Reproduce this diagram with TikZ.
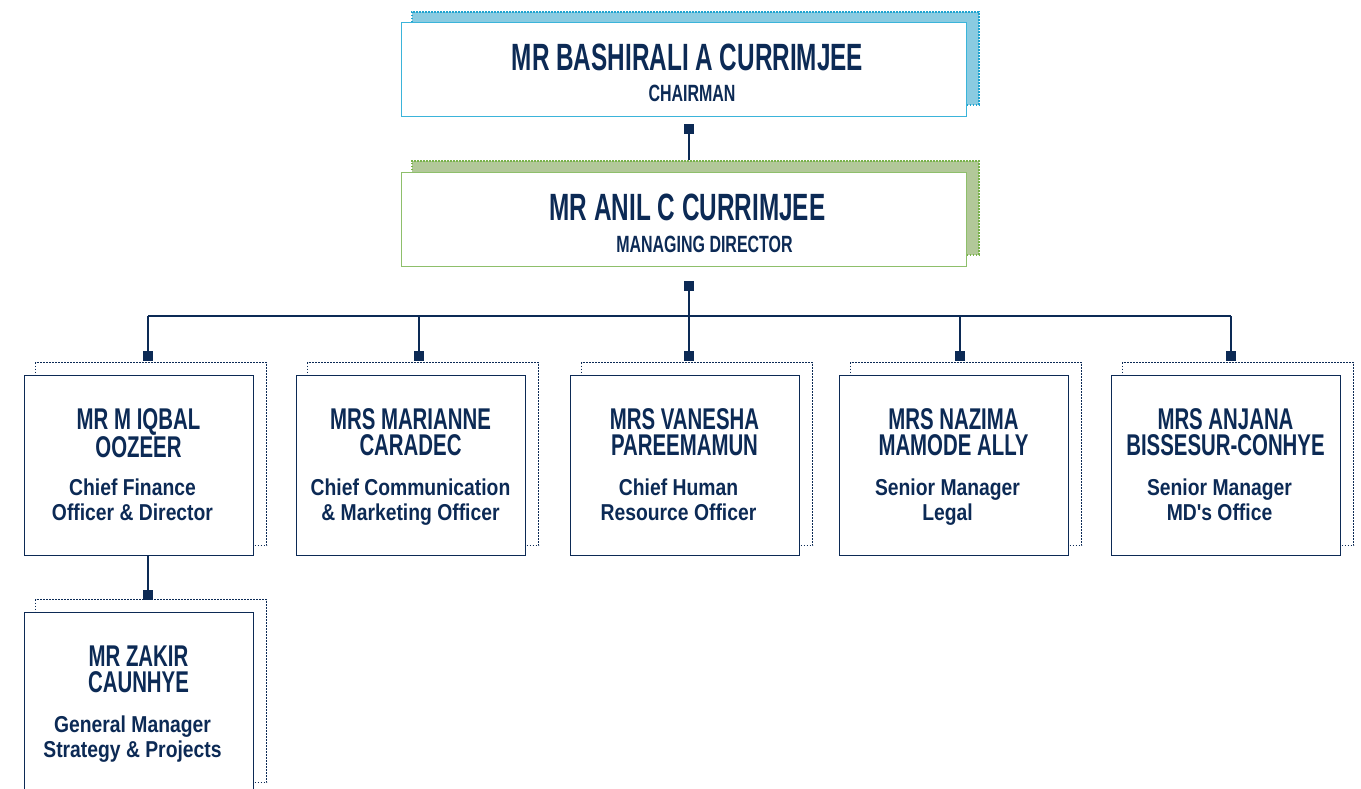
\documentclass[tikz,border=0pt]{standalone}
\usepackage{fontspec}
\setmainfont{Liberation Sans}
\newfontfamily\headfont{Liberation Sans}[FakeStretch=0.64]
\newfontfamily\capsfont{Liberation Sans}[FakeStretch=0.68]
\newfontfamily\rolefont{Liberation Sans}[FakeStretch=0.84]
\definecolor{navy}{HTML}{0C2A55}
\definecolor{skyline}{HTML}{3BB4DA}
\definecolor{skyfill}{HTML}{8ACBE1}
\definecolor{skydot}{HTML}{1FA3CF}
\definecolor{leafline}{HTML}{8EBF6B}
\definecolor{leaffill}{HTML}{B2C899}
\definecolor{leafdot}{HTML}{78B24A}

% one staff card: id, left x, top y, name lines, role lines, role x shift
\newcommand\staffcard[6]{%
  \node[cardshadow] (#1s) at (#2+11,#3-13) {};
  \node[card] (#1) at (#2,#3) {};
  \node[nametext] (#1n) at (#2+114.5,#3+33.5) {#4};
  \node[roletext] (#1r) at (#2+114.5+#6,#3+103.5) {#5};
}

\begin{document}
\begin{tikzpicture}[x=1pt,y=-1pt,
  dots/.style={dash pattern=on 1.4pt off 1.6pt},
  conn/.style={draw=navy,line width=2.2pt},
  marker/.style={fill=navy,draw=none,minimum size=9pt,inner sep=0pt},
  card/.style={draw=navy,line width=1.1pt,fill=white,minimum width=229pt,
    minimum height=180pt,anchor=north west,inner sep=0pt},
  cardshadow/.style={draw=navy,line width=1.4pt,dots,minimum width=231pt,
    minimum height=183pt,anchor=north west,inner sep=0pt},
  topbox/.style={fill=white,line width=1.1pt,minimum width=565pt,
    minimum height=94pt,anchor=north west,inner sep=0pt},
  topshadow/.style={line width=1.6pt,dots,minimum width=567pt,
    minimum height=93pt,anchor=north west,inner sep=0pt},
  headtext/.style={text=navy,anchor=base,inner sep=0pt,
    font=\headfont\bfseries\fontsize{38}{40}\selectfont},
  subtext/.style={text=navy,anchor=base,inner sep=0pt,
    font=\capsfont\bfseries\fontsize{23.5}{26}\selectfont},
  nametext/.style={text=navy,anchor=north,inner sep=0pt,align=center,
    font=\capsfont\bfseries\fontsize{30}{26}\selectfont},
  roletext/.style={text=navy,anchor=north,inner sep=0pt,align=center,
    font=\rolefont\bfseries\fontsize{23}{25.5}\selectfont}]
\useasboundingbox (0,0) rectangle (1361,789);

% chairman
\node[topshadow,fill=skyfill,draw=skydot] (chs) at (411,11) {};
\node[topbox,draw=skyline] (ch) at (401,22) {};
\node[headtext] (chn) at (687.5,71) {MR BASHIRALI A CURRIMJEE};
\node[subtext] (cht) at (692,102) {CHAIRMAN};

% managing director
\node[topshadow,fill=leaffill,draw=leafdot,minimum height=94pt] (mds) at (411,160) {};
\node[topbox,draw=leafline] (md) at (401,172) {};
\node[headtext] (mdn) at (687.5,220) {MR ANIL C CURRIMJEE};
\node[subtext] (mdt) at (704.5,252) {MANAGING DIRECTOR};

% direct reports
\staffcard{c1}{24}{375}{MR M IQBAL\\OOZEER}{Chief Finance\\Officer \& Director}{-6}
\staffcard{c2}{296}{375}{MRS MARIANNE\\CARADEC}{Chief Communication\\\& Marketing Officer}{0}
\staffcard{c3}{570}{375}{MRS VANESHA\\PAREEMAMUN}{Chief Human\\Resource Officer}{-6}
\staffcard{c4}{839}{375}{MRS NAZIMA\\MAMODE ALLY}{Senior Manager\\Legal}{-6}
\staffcard{c5}{1111}{375}{MRS ANJANA\\BISSESUR-CONHYE}{Senior Manager\\MD's Office}{-6}
\staffcard{c6}{24}{612}{MR ZAKIR\\CAUNHYE}{General Manager\\Strategy \& Projects}{-6}

% connector markers
\node[marker] (sq0) at (689,129) {};
\node[marker] (sq1) at (689,286) {};
\coordinate (bar) at (689,316);
\node[marker] (m1) at (148,356) {};
\node[marker] (m2) at (419,356) {};
\node[marker] (m3) at (689,356) {};
\node[marker] (m4) at (960,356) {};
\node[marker] (m5) at (1231,356) {};
\node[marker] (m6) at (148,595) {};

% connectors
\draw[conn] (sq0.center) -- (sq0.center |- mds.north);
\draw[conn] (sq1.center) -- (bar);
\draw[conn] (m1.center |- bar) -- (m5.center |- bar);
\foreach \m in {m1,m2,m3,m4,m5}
  \draw[conn] (\m.center |- bar) -- (\m.center);
\draw[conn] (m6.center |- c1.south) -- (m6.center);
\foreach \m in {sq0,sq1,m1,m2,m3,m4,m5,m6}
  \fill[navy] (\m.south west) rectangle (\m.north east);
\end{tikzpicture}
\end{document}
